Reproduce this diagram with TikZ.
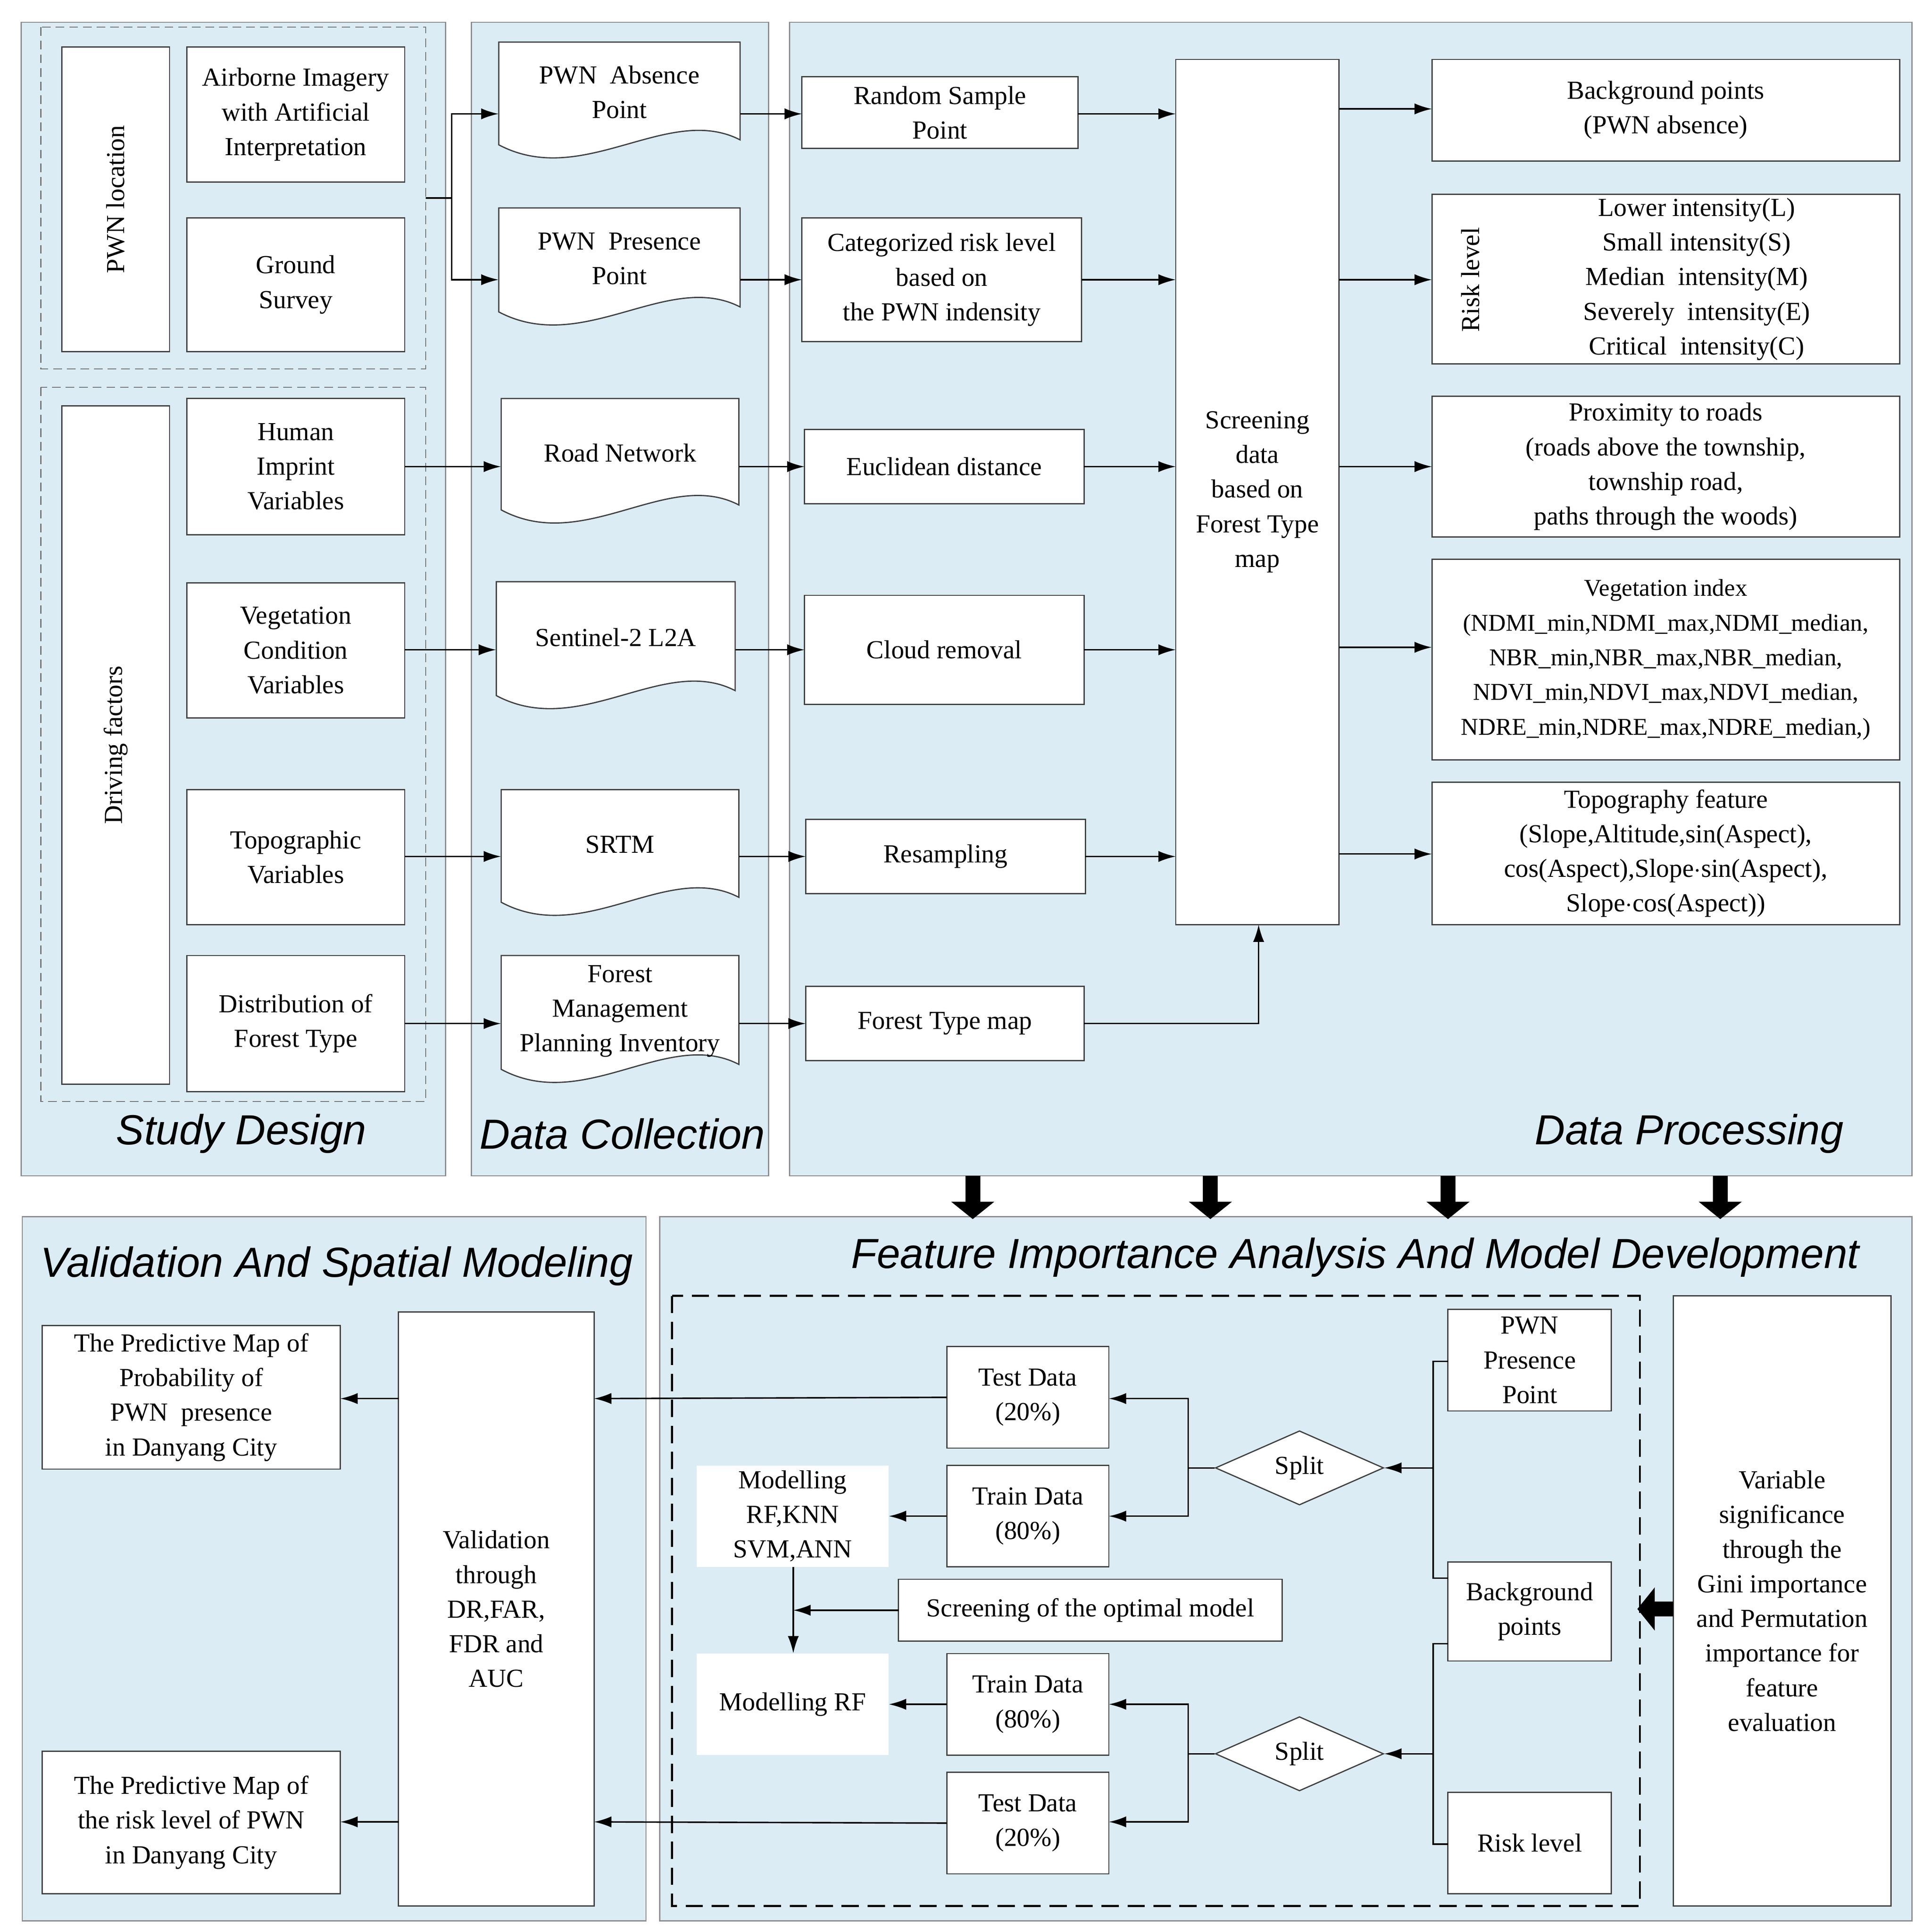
\documentclass[tikz,border=0pt]{standalone}
\usepackage{fontspec}
\setmainfont{Liberation Serif}
\newfontfamily\ttl{Liberation Sans}
\usetikzlibrary{arrows.meta,shapes.geometric,calc}
\definecolor{panelblue}{RGB}{219,236,244}
\tikzset{
  panel/.style={draw=black!45, fill=panelblue, line width=1pt},
  box/.style={draw=black!75, fill=white, line width=1pt, align=center, inner sep=0pt, outer sep=0pt,
    font=\fontsize{21}{28}\selectfont},
  txt/.style={align=center, inner sep=0pt, font=\fontsize{21}{28}\selectfont},
  title/.style={font=\ttl\itshape\fontsize{34}{40}\selectfont, inner sep=0pt},
  arr/.style={-{Latex[length=14pt,width=9pt]}, line width=1.2pt},
  ln/.style={line width=1.2pt},
  big/.style={-{Triangle[length=14pt,width=34pt]}, line width=12pt},
  dsh/.style={draw=black!55, dash pattern=on 7pt off 4pt, line width=0.8pt},
}
\newcommand{\bx}[6]{\node[box, minimum width={(#4-#2)*1pt}, minimum height={(#5-#3)*1pt}] (#1) at ({(#2+#4)/2},{(#3+#5)/2}) {#6};}
\newcommand{\dc}[6]{%
  \filldraw[draw=black!75, fill=white, line width=1pt] (#2,#3) -- (#4,#3) -- (#4,#5-22)
    .. controls ({#2+0.7*(#4-#2)},#5-52) and ({#2+0.35*(#4-#2)},#5+18) .. (#2,#5-18) -- cycle;
  \node[txt, minimum width={(#4-#2)*1pt}] (#1) at ({(#2+#4)/2},{(#3+#5)/2-10}) {#6};}
\begin{document}
\begin{tikzpicture}[x=1pt,y=-1pt]
\useasboundingbox (0,0) rectangle (1560,1561);
% panels
\draw[panel] (17,18) rectangle (360,950);
\draw[panel] (381,18) rectangle (621,950);
\draw[panel] (638,18) rectangle (1545,950);
\draw[panel] (18,983) rectangle (522,1552);
\draw[panel] (533,983) rectangle (1545,1552);
\draw[dsh] (33,22) rectangle (344,298);
\draw[dsh] (33,313) rectangle (344,890);
\node[title] at (195,916) {Study Design};
\node[title] at (503,916) {Data Collection};
\node[title] at (1365,916) {Data Processing};
\node[title] at (272,1023) {Validation And Spatial Modeling};
\node[title] at (1095,1016) {Feature Importance Analysis And Model Development};

% study design
\bx{loc}{50}{38}{137}{284}{}
\node[txt, rotate=90] at (loc.center) {PWN location};
\bx{drv}{50}{328}{137}{876}{}
\node[txt, rotate=90] at (drv.center) {Driving factors};
\bx{air}{151}{38}{327}{147}{Airborne Imagery\\with Artificial\\Interpretation}
\bx{gro}{151}{176}{327}{284}{Ground\\Survey}
\bx{hum}{151}{322}{327}{432}{Human\\Imprint\\Variables}
\bx{veg}{151}{471}{327}{580}{Vegetation\\Condition\\Variables}
\bx{top}{151}{638}{327}{747}{Topographic\\Variables}
\bx{dis}{151}{772}{327}{882}{Distribution of\\Forest Type}

% data collection
\dc{abs}{403}{34}{598}{135}{PWN\enspace Absence\\Point}
\dc{pre}{403}{168}{598}{270}{PWN\enspace Presence\\Point}
\dc{road}{405}{322}{597}{430}{Road Network}
\dc{sen}{401}{470}{594}{580}{Sentinel-2 L2A}
\dc{srtm}{405}{638}{597}{747}{SRTM}
\dc{fmp}{405}{772}{597}{882}{Forest\\Management\\Planning Inventory}

% data processing
\bx{rnd}{648}{62}{871}{120}{Random Sample\\Point}
\bx{cat}{648}{176}{874}{276}{Categorized risk level\\based on\\the PWN indensity}
\bx{euc}{650}{347}{876}{407}{Euclidean distance}
\bx{cld}{650}{481}{876}{569}{Cloud removal}
\bx{res}{651}{662}{877}{722}{Resampling}
\bx{ftm}{651}{797}{876}{857}{Forest Type map}
\bx{scr}{950}{48}{1082}{747}{Screening\\data\\based on\\Forest Type\\map}
\bx{bgp}{1157}{48}{1535}{130}{Background points\\(PWN absence)}
\bx{rsk}{1157}{157}{1535}{294}{\hspace*{50pt}Lower intensity(L)\\\hspace*{50pt}Small intensity(S)\\\hspace*{50pt}Median\enspace intensity(M)\\\hspace*{50pt}Severely\enspace intensity(E)\\\hspace*{50pt}Critical\enspace intensity(C)}
\node[txt, rotate=90] at (1188,226) {Risk level};
\bx{prx}{1157}{320}{1535}{434}{Proximity to roads\\(roads above the township,\\township road,\\paths through the woods)}
\bx{vix}{1157}{452}{1535}{614}{\fontsize{19.5}{26}\selectfont Vegetation index\\\fontsize{19.5}{26}\selectfont(NDMI\_min,NDMI\_max,NDMI\_median,\\\fontsize{19.5}{26}\selectfont NBR\_min,NBR\_max,NBR\_median,\\\fontsize{19.5}{26}\selectfont NDVI\_min,NDVI\_max,NDVI\_median,\\\fontsize{19.5}{26}\selectfont NDRE\_min,NDRE\_max,NDRE\_median,)}
\bx{tpf}{1157}{632}{1535}{747}{Topography feature\\(Slope,Altitude,sin(Aspect),\\cos(Aspect),Slope$\cdot$sin(Aspect),\\Slope$\cdot$cos(Aspect))}

% study -> collection
\coordinate (jn) at (365,160);
\draw[ln] (344,160) -- (jn);
\draw[arr] (jn) |- (abs.west |- 0,92);
\draw[arr] (jn) |- (pre.west |- 0,226);
\draw[arr] (hum.east |- 0,377) -- (road.west |- 0,377);
\draw[arr] (veg.east |- 0,525) -- (sen.west |- 0,525);
\draw[arr] (top.east |- 0,692) -- (srtm.west |- 0,692);
\draw[arr] (dis.east |- 0,827) -- (fmp.west |- 0,827);
% collection -> processing
\draw[arr] (abs.east |- 0,92) -- (rnd.west |- 0,92);
\draw[arr] (pre.east |- 0,226) -- (cat.west |- 0,226);
\draw[arr] (road.east |- 0,377) -- (euc.west |- 0,377);
\draw[arr] (sen.east |- 0,525) -- (cld.west |- 0,525);
\draw[arr] (srtm.east |- 0,692) -- (res.west |- 0,692);
\draw[arr] (fmp.east |- 0,827) -- (ftm.west |- 0,827);
% processing -> screening
\draw[arr] (rnd.east |- 0,92) -- (scr.west |- 0,92);
\draw[arr] (cat.east |- 0,226) -- (scr.west |- 0,226);
\draw[arr] (euc.east |- 0,377) -- (scr.west |- 0,377);
\draw[arr] (cld.east |- 0,525) -- (scr.west |- 0,525);
\draw[arr] (res.east |- 0,692) -- (scr.west |- 0,692);
\draw[arr] (ftm.east) -| (scr.south -| 1017,0);
% screening -> outputs
\draw[arr] (scr.east |- 0,88) -- (bgp.west |- 0,88);
\draw[arr] (scr.east |- 0,226) -- (rsk.west |- 0,226);
\draw[arr] (scr.east |- 0,377) -- (prx.west |- 0,377);
\draw[arr] (scr.east |- 0,523) -- (vix.west |- 0,523);
\draw[arr] (scr.east |- 0,690) -- (tpf.west |- 0,690);

% big arrows
\foreach \xx in {786,978,1170,1390} \draw[big] (\xx,950) -- (\xx,985);

% feature panel
\draw[dash pattern=on 14pt off 7pt, line width=1.6pt] (543,1047) rectangle (1325,1540);
\bx{var}{1352}{1047}{1528}{1540}{Variable\\significance\\through the\\Gini importance\\and Permutation\\importance for\\feature\\evaluation}
\draw[big] (1352,1300) -- (1323,1300);
\bx{ppp}{1170}{1058}{1302}{1140}{PWN\\Presence\\Point}
\bx{bgd}{1170}{1262}{1302}{1342}{Background\\points}
\bx{rkl}{1170}{1448}{1302}{1530}{Risk level}
\node[draw=black!75, fill=white, diamond, aspect=2.3, minimum width=136pt, minimum height=60pt, inner sep=0pt, line width=1pt, font=\fontsize{21}{28}\selectfont] (sp1) at (1050,1186) {Split};
\node[draw=black!75, fill=white, diamond, aspect=2.3, minimum width=136pt, minimum height=60pt, inner sep=0pt, line width=1pt, font=\fontsize{21}{28}\selectfont] (sp2) at (1050,1417) {Split};
\bx{te1}{765}{1088}{896}{1170}{Test Data\\(20\%)}
\bx{tr1}{765}{1184}{896}{1266}{Train Data\\(80\%)}
\bx{opt}{726}{1276}{1036}{1326}{Screening of the optimal model}
\bx{tr2}{765}{1336}{896}{1418}{Train Data\\(80\%)}
\bx{te2}{765}{1432}{896}{1514}{Test Data\\(20\%)}
\node[txt, fill=white, minimum width=155pt, minimum height=82pt] (m1) at (640.5,1225) {Modelling\\RF,KNN\\SVM,ANN};
\node[txt, fill=white, minimum width=155pt, minimum height=82pt] (m2) at (640.5,1377) {Modelling RF};
% brackets
\coordinate (b1) at (1158,1186);
\draw[ln] (ppp.west |- 0,1100) -| (1158,1275) -- (bgd.west |- 0,1275);
\draw[arr] (b1) -- (sp1.east);
\coordinate (b2) at (1158,1417);
\draw[ln] (bgd.west |- 0,1328) -| (1158,1490) -- (rkl.west |- 0,1490);
\draw[arr] (b2) -- (sp2.east);
\coordinate (s1) at (960,1186);
\draw[ln] (sp1.west) -- (s1);
\draw[arr] (s1) |- (te1.east |- 0,1130);
\draw[arr] (s1) |- (tr1.east |- 0,1225);
\coordinate (s2) at (960,1417);
\draw[ln] (sp2.west) -- (s2);
\draw[arr] (s2) |- (tr2.east |- 0,1377);
\draw[arr] (s2) |- (te2.east |- 0,1472);
\draw[arr] (tr1.west) -- (m1.east);
\draw[arr] (tr2.west) -- (m2.east);
\draw[arr] (m1.south -| 641,0) -- (m2.north -| 641,0);
\draw[arr] (opt.west) -- (641,1301);

% validation
\bx{val}{322}{1060}{480}{1540}{Validation\\through\\DR,FAR,\\FDR and\\AUC}
\bx{pm1}{34}{1071}{275}{1187}{The Predictive Map of\\Probability of\\PWN\enspace presence\\in Danyang City}
\bx{pm2}{34}{1415}{275}{1530}{The Predictive Map of\\the risk level of PWN\\in Danyang City}
\draw[arr] (te1.west) -- (val.east |- 0,1130);
\draw[arr] (te2.west) -- (val.east |- 0,1472);
\draw[arr] (val.west |- 0,1130) -- (pm1.east |- 0,1130);
\draw[arr] (val.west |- 0,1472) -- (pm2.east |- 0,1472);
\end{tikzpicture}
\end{document}
